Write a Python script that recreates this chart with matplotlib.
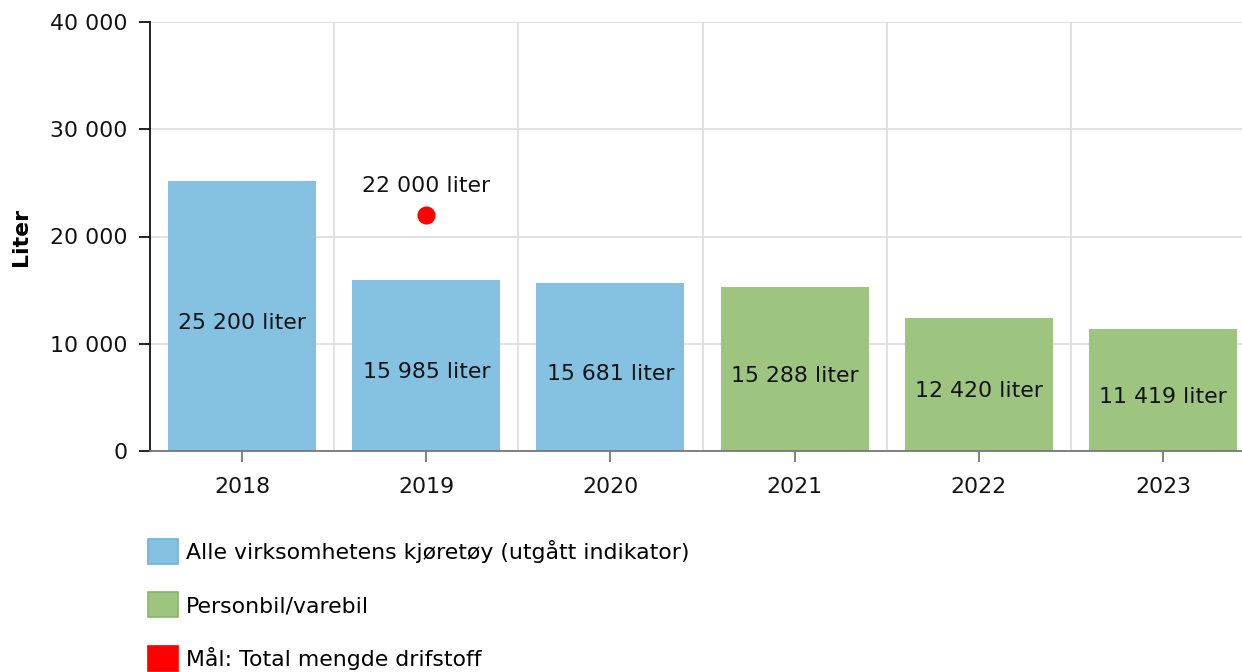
import matplotlib
matplotlib.use("Agg")
import matplotlib.pyplot as plt
from matplotlib.patches import Patch
from matplotlib.ticker import FuncFormatter, MultipleLocator, FixedLocator

plt.rcParams['font.family'] = ['DejaVu Sans']

years = ["2018", "2019", "2020", "2021", "2022", "2023"]
alle_years = ["2018", "2019", "2020"]
alle_values = [25200, 15985, 15681]
person_years = ["2021", "2022", "2023"]
person_values = [15288, 12420, 11419]
target_year = "2019"
target_value = 22000

series_names = ["Alle virksomhetens kjøretøy (utgått indikator)",
                "Personbil/varebil",
                "Mål: Total mengde drifstoff"]

blue = "#85c1e1"
blue_edge = "#6cb2da"
green = "#9ec57f"
green_edge = "#88b866"
red = "#ff0000"

W, H = 1242, 672
fig = plt.figure(figsize=(W / 100, H / 100), dpi=100)
ax = fig.add_axes([150 / W, 1 - 451 / H, (1242 - 150) / W, (451 - 22) / H])

xpos = {y: i for i, y in enumerate(years)}

def fmt(v):
    return f"{v:,.0f}".replace(",", " ")

fs = 15.8
bw = 148 / 184
ax.bar([xpos[y] for y in alle_years], alle_values, width=bw, color=blue, zorder=2)
ax.bar([xpos[y] for y in person_years], person_values, width=bw, color=green, zorder=2)

for ys, vs in ((alle_years, alle_values), (person_years, person_values)):
    for y, v in zip(ys, vs):
        ax.annotate(f"{fmt(v)} liter", (xpos[y], v / 2), xytext=(0, -5),
                    textcoords="offset points", ha="center", va="center",
                    fontsize=fs, color="#111111", zorder=4)

ax.scatter([xpos[target_year]], [target_value], s=170, color=red, zorder=5, linewidths=0)
ax.annotate(f"{fmt(target_value)} liter", (xpos[target_year], target_value),
            xytext=(0, 14), textcoords="offset points", ha="center", va="bottom",
            fontsize=fs, color="#111111", zorder=5)

ax.set_xlim(-0.5, 5 + (1242 - 1163) / 184)
ax.set_ylim(0, 40000)
ax.yaxis.set_major_locator(MultipleLocator(10000))
ax.yaxis.set_major_formatter(FuncFormatter(lambda v, p: fmt(v)))
ax.set_xticks(range(len(years)))
ax.set_xticklabels(years)
ax.xaxis.set_minor_locator(FixedLocator([i + 0.5 for i in range(len(years) - 1)]))

ax.grid(axis="y", which="major", color="#dddddd", linewidth=1.2, zorder=0)
ax.grid(axis="x", which="minor", color="#dddddd", linewidth=1.2, zorder=0)
ax.set_axisbelow(True)

for s in ("top", "right"):
    ax.spines[s].set_visible(False)
ax.spines["left"].set_color("#111111")
ax.spines["left"].set_linewidth(1.3)
ax.spines["bottom"].set_color("#777777")
ax.spines["bottom"].set_linewidth(1.3)

ax.tick_params(axis="y", which="major", length=8, width=1.3, color="#111111",
               labelsize=fs, labelcolor="#111111", pad=8)
ax.tick_params(axis="x", which="major", length=8, width=1.3, color="#777777",
               labelsize=fs, labelcolor="#111111", pad=11)
ax.tick_params(axis="x", which="minor", length=0)

ax.set_ylabel("Liter", fontsize=fs, fontweight="bold", labelpad=14)

handles = [Patch(facecolor=blue, edgecolor=blue_edge, linewidth=1.2),
           Patch(facecolor=green, edgecolor=green_edge, linewidth=1.2),
           Patch(facecolor=red, edgecolor=red, linewidth=1.2)]
fig.legend(handles, series_names, loc="upper left",
           bbox_to_anchor=(148 / W, 1 - 539 / H), frameon=False,
           fontsize=fs, handlelength=1.37, handleheight=1.37,
           handletextpad=0.35, labelspacing=1.3, borderpad=0, borderaxespad=0)

fig.savefig("out.png", dpi=100)
